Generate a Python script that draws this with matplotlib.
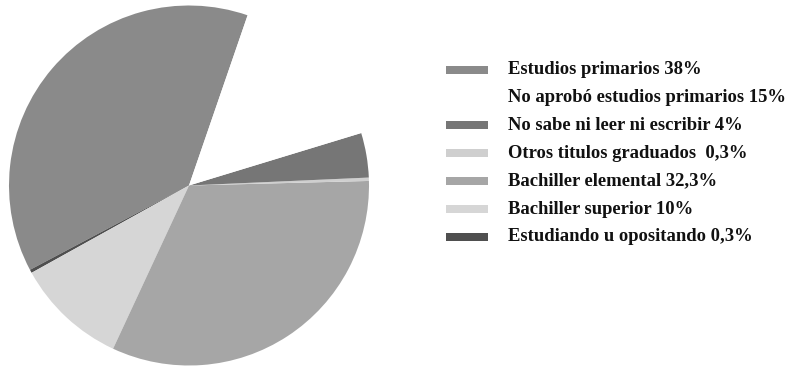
import matplotlib
matplotlib.use("Agg")
import matplotlib.pyplot as plt
from matplotlib.patches import Rectangle

# Nivel de estudios
categories = [
    "Estudios primarios",
    "Estudiando u opositando",
    "Bachiller superior",
    "Bachiller elemental",
    "Otros titulos graduados",
    "No sabe ni leer ni escribir",
    "No aprobó estudios primarios",
]
values = [38, 0.3, 10, 32.3, 0.3, 4, 15]
value_labels = ["38%", "0,3%", "10%", "32,3%", " 0,3%", "4%", "15%"]
colors = ["#8a8a8a", "#4f4f4f", "#d6d6d6", "#a6a6a6", "#cfcfcf", "#767676", "#ffffff"]

# Orden de la leyenda
legend_order = [
    "Estudios primarios",
    "No aprobó estudios primarios",
    "No sabe ni leer ni escribir",
    "Otros titulos graduados",
    "Bachiller elemental",
    "Bachiller superior",
    "Estudiando u opositando",
]

W, H = 787, 367
fig = plt.figure(figsize=(W / 100, H / 100), dpi=100)
fig.patch.set_facecolor("white")

# Tarta
cx, cy, r = 189, 185.5, 180
ax = fig.add_axes([(cx - r) / W, (H - cy - r) / H, 2 * r / W, 2 * r / H])
ax.pie(values, colors=colors, startangle=71, counterclock=True,
       radius=1.0, wedgeprops=dict(linewidth=0, antialiased=True))
ax.set_xlim(-1, 1)
ax.set_ylim(-1, 1)
ax.set_aspect("equal")
ax.axis("off")

# Leyenda
lax = fig.add_axes([0, 0, 1, 1])
lax.set_xlim(0, W)
lax.set_ylim(H, 0)
lax.axis("off")
y0, dy = 69.5, 27.9
for i, name in enumerate(legend_order):
    k = categories.index(name)
    y = y0 + i * dy
    if colors[k] != "#ffffff":
        lax.add_patch(Rectangle((446, y - 4), 42, 8, facecolor=colors[k],
                                edgecolor="none"))
    lax.text(508, y, f"{name} {value_labels[k]}", fontsize=13.4,
             fontweight="bold", family=["Liberation Serif", "DejaVu Serif"],
             va="center", ha="left", color="#111111")

fig.savefig("out.png", dpi=100, facecolor="white")
